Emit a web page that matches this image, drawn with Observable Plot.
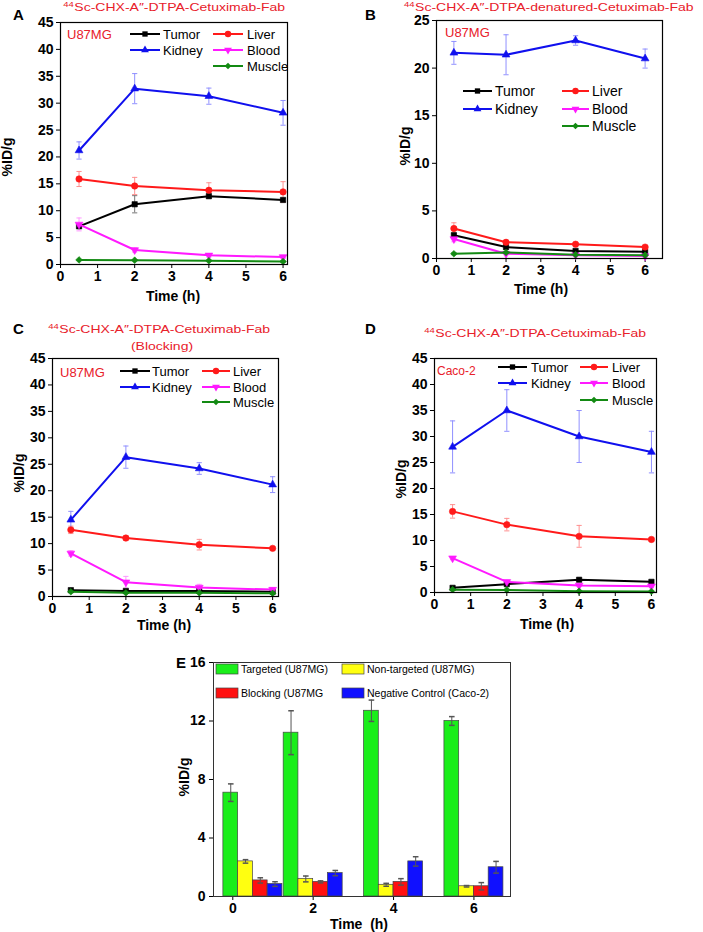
<!DOCTYPE html>
<html><head><meta charset="utf-8">
<script src="https://cdn.jsdelivr.net/npm/d3@7"></script>
<script src="https://cdn.jsdelivr.net/npm/@observablehq/plot@0.6"></script>
<style>
body{margin:0;background:#fff;}
#fig{position:relative;width:703px;height:932px;overflow:hidden;background:#fff;}
#fig > svg{position:absolute;}
</style></head><body><div id="fig"></div>
<script>
// ---------- data ----------
const organs = ["Tumor", "Liver", "Kidney", "Blood", "Muscle"];
const organColors = ["#000000", "#ff1a1a", "#1010ee", "#ff1aff", "#138a13"];
const errColors = ["#777777", "#ff9090", "#9090ff", "#ff99ff", "#70b070"];
const timesH = [0.5, 2, 4, 6];
const xTicks = [0, 1, 2, 3, 4, 5, 6];
const yTicks45 = [0, 5, 10, 15, 20, 25, 30, 35, 40, 45];
const yTicks25 = [0, 5, 10, 15, 20, 25];

// rows: Tumor, Liver, Kidney, Blood, Muscle ; columns: 0.5, 2, 4, 6 h
const meanA = [[7.1, 11.2, 12.7, 12.0], [15.9, 14.6, 13.8, 13.5], [21.2, 32.7, 31.3, 28.2], [7.45, 2.7, 1.7, 1.4], [0.85, 0.8, 0.7, 0.55]];
const errA  = [[0.3, 1.6, 0.4, 0.3], [1.4, 1.6, 1.4, 1.9], [1.6, 2.8, 1.5, 2.3], [1.2, 0.4, 0.3, 0.3], [0.1, 0.1, 0.1, 0.1]];
const meanB = [[2.45, 1.2, 0.8, 0.7], [3.15, 1.7, 1.5, 1.2], [21.6, 21.4, 22.9, 21.0], [2.05, 0.5, 0.35, 0.25], [0.5, 0.63, 0.4, 0.35]];
const errB  = [[0.2, 0.2, 0.1, 0.1], [0.6, 0.2, 0.15, 0.15], [1.2, 2.1, 0.5, 1.0], [0.3, 0.1, 0.1, 0.1], [0.1, 0.1, 0.1, 0.1]];
const meanC = [[1.2, 1.05, 1.05, 0.9], [12.6, 11.05, 9.8, 9.1], [14.5, 26.35, 24.2, 21.15], [8.15, 2.7, 1.7, 1.3], [0.9, 0.7, 0.7, 0.6]];
const errC  = [[0.2, 0.2, 0.2, 0.2], [0.7, 0.4, 1.0, 0.3], [1.6, 2.1, 1.1, 1.5], [0.5, 1.1, 0.6, 0.4], [0.1, 0.1, 0.1, 0.1]];
const meanD = [[0.9, 1.6, 2.45, 2.05], [15.6, 13.05, 10.8, 10.2], [28.0, 35.0, 30.0, 27.0], [6.6, 2.05, 1.35, 1.2], [0.55, 0.5, 0.25, 0.2]];
const errD  = [[0.2, 0.2, 0.2, 0.2], [1.3, 1.2, 2.1, 0.3], [5, 4, 5, 4], [0.3, 0.3, 0.2, 0.2], [0.1, 0.1, 0.1, 0.1]];

const barGroupLabels = [0, 2, 4, 6];
const barSlots = [0.5, 2, 4, 6];
const barSeries = ["Targeted (U87MG)", "Non-targeted (U87MG)", "Blocking (U87MG", "Negative Control (Caco-2)"];
const barColors = ["#1aee1a", "#ffff10", "#ff1010", "#1010ff"];
const barMean = [[7.1, 11.2, 12.7, 12.0], [2.4, 1.2, 0.8, 0.7], [1.1, 1.0, 1.0, 0.7], [0.85, 1.6, 2.4, 2.0]];
const barErr  = [[0.6, 1.5, 0.73, 0.3], [0.12, 0.2, 0.1, 0.05], [0.18, 0.07, 0.22, 0.25], [0.16, 0.18, 0.32, 0.4]];
const yTicksE = [0, 4, 8, 12, 16];

const isotope = "44";
const titleA = "Sc-CHX-A\u2033-DTPA-Cetuximab-Fab";
const titleB = "Sc-CHX-A\u2033-DTPA-denatured-Cetuximab-Fab";
const titleC = "Sc-CHX-A\u2033-DTPA-Cetuximab-Fab";
const titleD = "Sc-CHX-A\u2033-DTPA-Cetuximab-Fab";

// ---------- helpers ----------
const FONT = "'Liberation Sans', Arial, Helvetica, sans-serif";
const RED = "#e8202a";
const fig = document.getElementById("fig");

const capSym = {draw(ctx, size) { const w = Math.sqrt(size / Math.PI); ctx.moveTo(-w, 0); ctx.lineTo(w, 0); }};
const triDown = {draw(c, s) { const y = -Math.sqrt(s / (Math.sqrt(3) * 3)); c.moveTo(0, -2 * y); c.lineTo(-Math.sqrt(3) * y, y); c.lineTo(Math.sqrt(3) * y, y); c.closePath(); }};
const organSymbols = ["square", "circle", "triangle", triDown, "diamond2"];
const legendSymbols = [d3.symbolSquare, d3.symbolCircle, d3.symbolTriangle, triDown, d3.symbolDiamond2];
const organR = [3.0, 3.2, 2.9, 2.9, 3.0];

const plotStyle = {fontFamily: FONT, fontSize: "14px", fontWeight: "bold", color: "#000", background: "none", overflow: "visible"};

function place(svg, left, top) {
  svg.style.position = "absolute";
  svg.style.left = left + "px";
  svg.style.top = top + "px";
  fig.appendChild(svg);
}

function linePanel(mean, err, yMax, yTicks, xMax, box) {
  const marks = [];
  const series = organs.map((o, i) => timesH.map((t, j) => ({t, v: mean[i][j], e: err[i][j]})));
  series.forEach((rows, i) => {
    marks.push(Plot.ruleX(rows, {x: "t", y1: d => d.v - d.e, y2: d => d.v + d.e, stroke: errColors[i], strokeWidth: 1}));
    marks.push(Plot.dot(rows, {x: "t", y: d => d.v + d.e, symbol: capSym, r: 2.6, stroke: errColors[i], fill: "none", strokeWidth: 1}));
    marks.push(Plot.dot(rows, {x: "t", y: d => d.v - d.e, symbol: capSym, r: 2.6, stroke: errColors[i], fill: "none", strokeWidth: 1}));
  });
  series.forEach((rows, i) => {
    marks.push(Plot.line(rows, {x: "t", y: "v", stroke: organColors[i], strokeWidth: 2}));
    marks.push(Plot.dot(rows, {x: "t", y: "v", symbol: organSymbols[i], r: organR[i], fill: organColors[i], stroke: organColors[i], strokeWidth: 0.6}));
  });
  marks.push(Plot.frame({stroke: "#000", strokeWidth: 1.2}));
  const svg = Plot.plot({
    width: box.w, height: box.h,
    marginLeft: box.ml, marginRight: box.mr, marginTop: box.mt, marginBottom: box.mb,
    x: {domain: [0, xMax], ticks: xTicks, tickFormat: "d", tickSize: 4, tickPadding: 3, label: null},
    y: {domain: [0, yMax], ticks: yTicks, tickFormat: "d", tickSize: 4, tickPadding: 3, label: null},
    style: plotStyle,
    marks
  });
  place(svg, box.left, box.top);
}

linePanel(meanA, errA, 45, yTicks45, 6.12, {left: 0, top: 0, w: 350, h: 300, ml: 60, mr: 63, mt: 22, mb: 36});
linePanel(meanB, errB, 25, yTicks25, 6.5, {left: 350, top: 0, w: 353, h: 300, ml: 86, mr: 41, mt: 20, mb: 42});
linePanel(meanC, errC, 45, yTicks45, 6.16, {left: 0, top: 310, w: 350, h: 320, ml: 52, mr: 72, mt: 48, mb: 34});
linePanel(meanD, errD, 45, yTicks45, 6.14, {left: 350, top: 310, w: 353, h: 320, ml: 84, mr: 47, mt: 48, mb: 38});

// ---------- panel E ----------
{
  const bw = 0.367;
  const marks = [];
  barSeries.forEach((s, k) => {
    const rows = barSlots.map((g, j) => ({g, v: barMean[k][j], e: barErr[k][j]}));
    marks.push(Plot.rectY(rows, {x1: d => d.g + (k - 2) * bw, x2: d => d.g + (k - 1) * bw, y1: 0, y2: "v", fill: barColors[k], stroke: "#444", strokeWidth: 0.7}));
    marks.push(Plot.ruleX(rows, {x: d => d.g + (k - 1.5) * bw, y1: d => d.v - d.e, y2: d => d.v + d.e, stroke: "#555", strokeWidth: 1}));
    marks.push(Plot.dot(rows, {x: d => d.g + (k - 1.5) * bw, y: d => d.v + d.e, symbol: capSym, r: 2.8, stroke: "#555", fill: "none"}));
    marks.push(Plot.dot(rows, {x: d => d.g + (k - 1.5) * bw, y: d => d.v - d.e, symbol: capSym, r: 2.8, stroke: "#555", fill: "none"}));
  });
  marks.push(Plot.frame({stroke: "#333", strokeWidth: 1}));
  const svg = Plot.plot({
    width: 380, height: 292, marginLeft: 63, marginRight: 20, marginTop: 22, marginBottom: 36,
    x: {domain: [-0.48, 6.91], ticks: barGroupLabels, tickFormat: "d", tickSize: 4, tickPadding: 3, label: null},
    y: {domain: [0, 16], ticks: yTicksE, tickFormat: "d", tickSize: 4, tickPadding: 4, label: null},
    style: plotStyle,
    marks
  });
  place(svg, 150, 640);
}

// ---------- annotation overlay (titles, legends, axis titles) ----------
const ov = d3.select(fig).append("svg")
  .attr("width", 703).attr("height", 932)
  .style("position", "absolute").style("left", "0px").style("top", "0px")
  .style("font-family", FONT);

function text(x, y, s, o = {}, parent = ov) {
  const t = parent.append("text").attr("x", x).attr("y", y)
    .attr("font-size", o.size || 14).attr("font-weight", o.weight || "normal")
    .attr("fill", o.fill || "#000").attr("text-anchor", o.anchor || "start")
    .style("white-space", "pre").text(s);
  if (o.rotate) t.attr("transform", `rotate(${o.rotate},${x},${y})`);
  return t;
}
// red panel title with superscript mass number; glyphs slightly flattened like the source figure
const TITLE_SY = 0.82;
function title(x, y, rest, anchor) {
  const g = ov.append("g");
  const sup = text(0, -4.5, isotope, {size: 9.5, fill: RED}, g);
  const main = text(0, 0, rest, {fill: RED}, g);
  const ws = sup.node().getComputedTextLength();
  const wm = main.node().getComputedTextLength();
  const x0 = anchor === "middle" ? x - (ws + wm) / 2 : x;
  main.attr("x", ws + 0.5);
  g.attr("transform", `translate(${x0},${y}) scale(1,${TITLE_SY})`);
}
function subTitle(x, y, s) {
  const g = ov.append("g").attr("transform", `translate(${x},${y}) scale(1,${TITLE_SY})`);
  text(0, 0, s, {fill: RED, anchor: "middle"}, g);
}

title(174, 11, titleA, "middle");
title(404, 11, titleB, "start");
title(159, 333, titleC, "middle");
subTitle(162, 350, "(Blocking)");
title(535, 337, titleD, "middle");

text(13, 20, "A", {size: 15, weight: "bold"});
text(365, 20, "B", {size: 15, weight: "bold"});
text(13, 334, "C", {size: 15, weight: "bold"});
text(365, 334, "D", {size: 15, weight: "bold"});
text(176, 668, "E", {size: 15, weight: "bold"});

text(67, 39, "U87MG", {size: 13, fill: RED});
text(445, 37, "U87MG", {size: 13, fill: RED});
text(60, 377, "U87MG", {size: 13, fill: RED});
text(437, 375, "Caco-2", {size: 12, fill: RED});

// axis titles
text(173, 301, "Time (h)", {weight: "bold", anchor: "middle"});
text(541, 294, "Time (h)", {weight: "bold", anchor: "middle"});
text(164, 630, "Time (h)", {weight: "bold", anchor: "middle"});
text(547, 629, "Time (h)", {weight: "bold", anchor: "middle"});
text(359, 929, "Time  (h)", {weight: "bold", anchor: "middle"});
text(12, 157, "%ID/g", {weight: "bold", anchor: "middle", rotate: -90});
text(410, 146, "%ID/g", {weight: "bold", anchor: "middle", rotate: -90});
text(24, 473, "%ID/g", {weight: "bold", anchor: "middle", rotate: -90});
text(406, 479, "%ID/g", {weight: "bold", anchor: "middle", rotate: -90});
text(189, 777, "%ID/g", {weight: "bold", anchor: "middle", rotate: -90});

// line legends
const legendSlots = [[0, 0], [1, 0], [0, 1], [1, 1], [1, 2]];
function lineLegend(layout, fontSize) {
  organs.forEach((o, i) => {
    const [c, r] = legendSlots[i];
    const [x1, x2, tx] = layout.cols[c];
    const y = layout.rows[r];
    ov.append("line").attr("x1", x1).attr("x2", x2).attr("y1", y).attr("y2", y)
      .attr("stroke", organColors[i]).attr("stroke-width", 2);
    ov.append("path").attr("d", d3.symbol(legendSymbols[i], Math.PI * organR[i] * organR[i])())
      .attr("transform", `translate(${(x1 + x2) / 2},${y})`).attr("fill", organColors[i]);
    ov.append("text").attr("x", tx).attr("y", y).attr("dy", "0.36em").attr("font-size", fontSize).text(o);
  });
}
lineLegend({cols: [[130, 160, 163], [213, 243, 247]], rows: [34, 50, 66]}, 13);
lineLegend({cols: [[463, 492, 495], [562, 589, 592]], rows: [91, 109, 126]}, 14);
lineLegend({cols: [[120, 150, 152], [202, 230, 233]], rows: [371, 387, 402]}, 13);
lineLegend({cols: [[498, 527, 531], [580, 608, 612]], rows: [367, 383, 400]}, 13);

// bar legend
const barLegendSlots = [[216, 669], [342, 669], [216, 693], [342, 693]];
barSeries.forEach((s, k) => {
  const [x, y] = barLegendSlots[k];
  ov.append("rect").attr("x", x).attr("y", y - 5).attr("width", 22).attr("height", 10)
    .attr("fill", barColors[k]).attr("stroke", "#444").attr("stroke-width", 0.7);
  ov.append("text").attr("x", x + 25).attr("y", y).attr("dy", "0.36em").attr("font-size", 10.5).text(s);
});
</script>
</body></html>
